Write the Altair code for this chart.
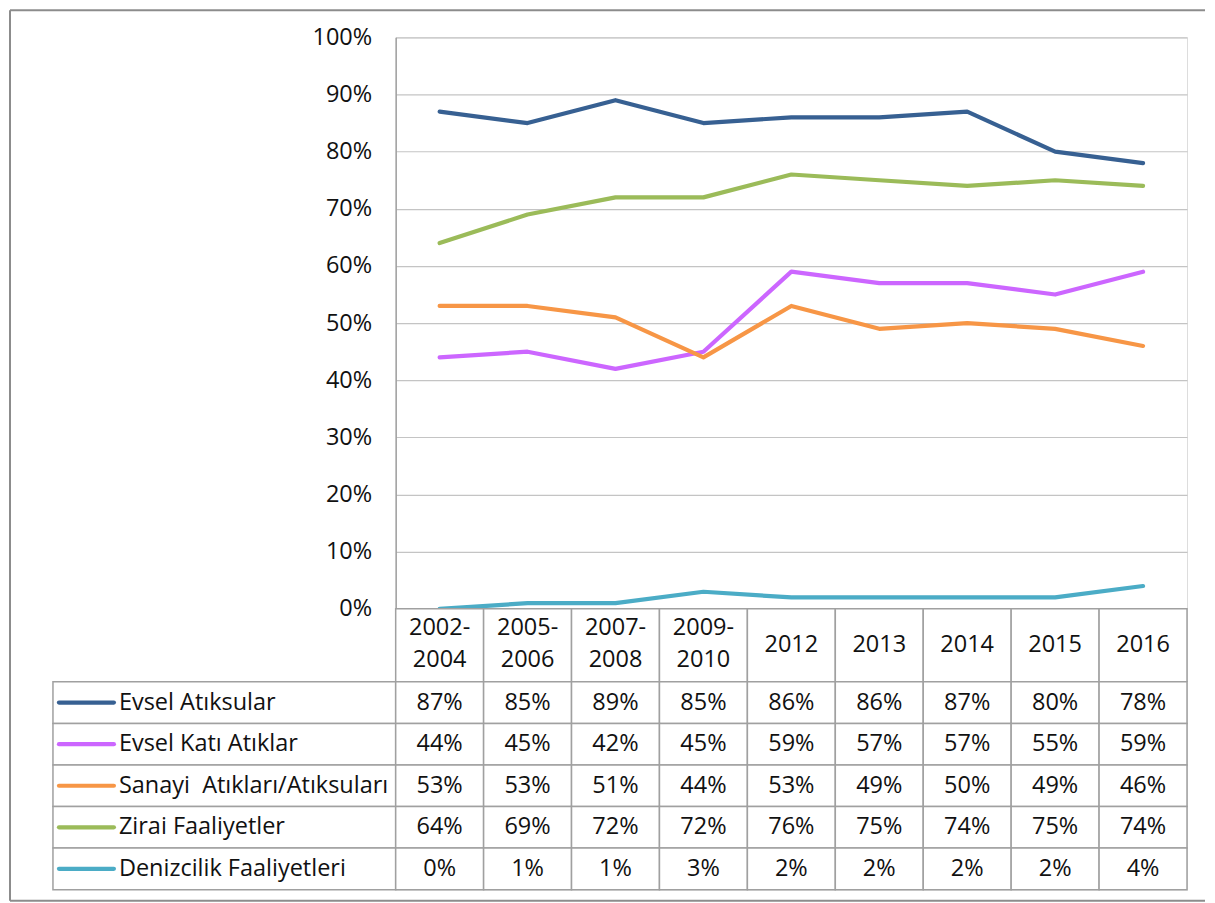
import altair as alt
import pandas as pd

# ---- data ----
periods = ["2002-2004", "2005-2006", "2007-2008", "2009-2010", "2012", "2013", "2014", "2015", "2016"]
series = ["Evsel Atıksular", "Evsel Katı Atıklar", "Sanayi\u00a0 Atıkları/Atıksuları",
          "Zirai Faaliyetler", "Denizcilik Faaliyetleri"]
colors = ["#376092", "#CC66FF", "#F79646", "#9BBB59", "#4BACC6"]

evsel_atiksular = [87, 85, 89, 85, 86, 86, 87, 80, 78]
evsel_kati = [44, 45, 42, 45, 59, 57, 57, 55, 59]
sanayi = [53, 53, 51, 44, 53, 49, 50, 49, 46]
zirai = [64, 69, 72, 72, 76, 75, 74, 75, 74]
denizcilik = [0, 1, 1, 3, 2, 2, 2, 2, 4]

y_ticks = [0, 0.1, 0.2, 0.3, 0.4, 0.5, 0.6, 0.7, 0.8, 0.9, 1.0]

all_vals = [evsel_atiksular, evsel_kati, sanayi, zirai, denizcilik]
rows = []
for si, s in enumerate(series):
    for pi, p in enumerate(periods):
        rows.append({"series": s, "period": p, "value": all_vals[si][pi] / 100.0, "s_idx": si})
df = pd.DataFrame(rows)
periods_df = pd.DataFrame({"period": periods})
series_df = pd.DataFrame({"series": series})
one = pd.DataFrame({"k": [0]})

FONT = "Open Sans"
GRID = "#C4C4C4"
TABLE = "#A0A0A0"
FRAME = "#8C8C8C"
TXT = "#111111"
FS = 23.5

W = 792
H_TOP = 572
H_HDR = 73
H_BODY = 208

color_scale = alt.Scale(domain=series, range=colors)

# ---- top: line chart ----
x_point = alt.X("period:N", sort=periods, scale=alt.Scale(type="point", padding=0.5), axis=None)
lines = alt.Chart(df).mark_line(strokeWidth=4.2, strokeCap="round", strokeJoin="round").encode(
    x=x_point,
    y=alt.Y("value:Q", scale=alt.Scale(domain=[0, 1], nice=False),
            axis=alt.Axis(values=y_ticks, format=".0%", title=None, ticks=False,
                          labelFontSize=FS, labelFont=FONT, labelColor=TXT,
                          labelPadding=24, domain=True, domainColor=TABLE, domainWidth=1.5,
                          grid=True, gridColor=GRID, gridWidth=1.2)),
    color=alt.Color("series:N", scale=color_scale, legend=None),
    order=alt.Order("s_idx:Q"),
)

frame_left = alt.Chart(one).mark_rule(color=FRAME, strokeWidth=2).encode(
    x=alt.value(-386), y=alt.value(-27), y2=alt.value(864))
frame_top = alt.Chart(one).mark_rule(color=FRAME, strokeWidth=2).encode(
    x=alt.value(-386), x2=alt.value(810), y=alt.value(-27))
frame_bottom = alt.Chart(one).mark_rule(color=FRAME, strokeWidth=2).encode(
    x=alt.value(-386), x2=alt.value(810), y=alt.value(864))

top = alt.layer(lines, frame_left, frame_top, frame_bottom).properties(width=W, height=H_TOP)

# ---- header row ----
x_band = alt.X("period:N", sort=periods, scale=alt.Scale(paddingInner=0, paddingOuter=0), axis=None)
hdr_cells = alt.Chart(periods_df).mark_rect(fill="white", stroke=TABLE, strokeWidth=1.5).encode(
    x=x_band, y=alt.value(0), y2=alt.value(H_HDR))
hdr_multi = alt.Chart(periods_df).transform_filter(
    "indexof(datum.period, '-') >= 0"
).transform_calculate(
    label="replace(datum.period, '-', '-\\n')"
).mark_text(lineBreak="\n", fontSize=FS, font=FONT, color=TXT, lineHeight=32,
            baseline="middle").encode(
    x=x_band, y=alt.value(19.5), text="label:N")
hdr_single = alt.Chart(periods_df).transform_filter(
    "indexof(datum.period, '-') < 0"
).mark_text(fontSize=FS, font=FONT, color=TXT, baseline="middle").encode(
    x=x_band, y=alt.value(H_HDR / 2), text="period:N")
header = alt.layer(hdr_cells, hdr_multi, hdr_single).properties(width=W, height=H_HDR)

# ---- body rows ----
y_band = alt.Y("series:N", sort=series, scale=alt.Scale(paddingInner=0, paddingOuter=0), axis=None)
cells = alt.Chart(df).mark_rect(fill="white", stroke=TABLE, strokeWidth=1.5).encode(x=x_band, y=y_band)
cell_text = alt.Chart(df).mark_text(fontSize=FS, font=FONT, color=TXT).encode(
    x=x_band, y=y_band, text=alt.Text("value:Q", format=".0%"))
left_cells = alt.Chart(series_df).mark_rect(fill="white", stroke=TABLE, strokeWidth=1.5).encode(
    x=alt.value(-343), x2=alt.value(0), y=y_band)
swatches = alt.Chart(series_df).mark_rule(strokeWidth=4.2, strokeCap="round").encode(
    x=alt.value(-337), x2=alt.value(-282),
    y=alt.Y("series:N", sort=series, scale=alt.Scale(paddingInner=0, paddingOuter=0), axis=None, bandPosition=0.5),
    color=alt.Color("series:N", scale=color_scale, legend=None))
names = alt.Chart(series_df).mark_text(align="left", fontSize=FS, font=FONT, color=TXT).encode(
    x=alt.value(-277), y=y_band, text="series:N")
body = alt.layer(left_cells, cells, cell_text, swatches, names).properties(width=W, height=H_BODY)

chart = alt.vconcat(top, header, body, spacing=0, bounds="flush").configure_view(
    strokeWidth=0
).configure(font=FONT, padding=0, background="white")

chart.save("out.html", embed_options={"renderer": "svg", "actions": False})
